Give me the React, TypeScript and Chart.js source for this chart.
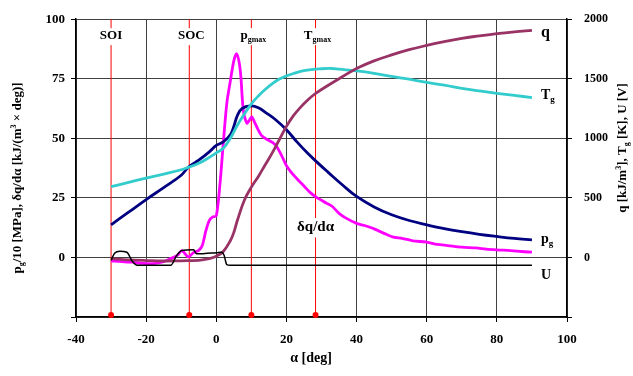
import React, { useEffect, useRef } from "react";
import { Chart, registerables } from "chart.js";
Chart.register(...registerables);

const FONT = "'Liberation Serif', 'Times New Roman', serif";

// crank angle ticks / marker lines
const markerAngles = [-30, -7.7, 10, 28.3];
const markerNames = ["SOI", "SOC", "pgmax", "Tgmax"];

// p_g / 10 [MPa]
const pgAlpha = [-30, -25, -20, -15, -10, -8, -5, -2, 0, 2, 4, 5, 6, 7.3, 10, 12, 14.4, 17, 20, 23, 26, 28.7, 32, 36, 40, 45, 50, 55, 60, 65, 70, 75, 80, 85, 90];
const pgValues = [13.7, 19, 24.3, 29.3, 34.5, 37.8, 40.8, 44.3, 47, 48.5, 51.5, 55, 59.5, 62.5, 63.6, 62.8, 60.5, 57.7, 53.6, 48.5, 43.8, 40, 35.6, 30.4, 25.6, 21.2, 17.9, 15.5, 13.7, 12.1, 10.8, 9.7, 8.8, 8, 7.4];

// dq/dalpha [kJ/(m3 deg)]
const dqAlpha = [-30, -27, -24, -21, -18, -15, -13, -11, -9.8, -8, -6.5, -5, -4, -3, -2, -1, 0, 1, 2, 3, 4, 5, 5.8, 6.5, 7, 7.7, 8.7, 9.4, 10.1, 11, 11.8, 13, 14.5, 16, 17, 18.2, 19.2, 20.1, 21.5, 23, 25, 26.8, 28.7, 30, 31.5, 33, 35, 37, 40, 42, 45, 48, 50.5, 53, 56, 60, 63, 66, 70, 74, 77, 80, 84, 87, 90];
const dqValues = [-1.5, -1.7, -2, -2.5, -2.6, -1.8, -0.5, 1, 2.9, 0.2, 2, 3, 5, 11, 15.5, 17, 17.5, 30, 48, 64.7, 74, 82.5, 85.5, 82, 76, 62, 56.4, 57.5, 59, 56.5, 54, 51, 49.5, 48.3, 47, 44, 41, 38.3, 35.5, 33, 30, 27.2, 25.1, 24, 22.7, 21.5, 18.5, 16.5, 14.3, 13.5, 12, 10, 8.5, 8, 7, 6.4, 5.5, 5, 4.3, 4, 3.5, 3.2, 2.9, 2.5, 2.2];

// T_g [K]
const tgAlpha = [-30, -25, -20, -15, -10, -8, -5, -2, 0, 2, 4, 6, 8, 10, 12, 14, 16, 18, 20, 22, 25, 30, 33, 35, 40, 45, 50, 55, 60, 65, 70, 75, 80, 85, 90];
const tgValues = [594, 630, 666, 700, 736, 756, 790, 840, 878, 916, 1000, 1110, 1204, 1290, 1356, 1412, 1460, 1498, 1524, 1544, 1568, 1584, 1586, 1580, 1566, 1546, 1520, 1496, 1470, 1446, 1420, 1398, 1378, 1360, 1342];

// q [kJ/m3]
const qAlpha = [-30, -25, -20, -15, -10, -5, -2, 0, 2, 4, 5, 6, 8, 10, 12, 14, 16, 18, 20, 22, 24, 26, 28, 30, 35, 40, 45, 50, 55, 60, 65, 70, 75, 80, 85, 90];
const qValues = [-10, -20, -26, -30, -28, -24, -10, 10, 50, 140, 210, 310, 480, 590, 680, 780, 880, 990, 1100, 1190, 1260, 1320, 1370, 1410, 1500, 1586, 1650, 1700, 1744, 1780, 1812, 1840, 1860, 1878, 1894, 1906];

// U [V]
const uAlpha = [-30, -29, -27.5, -25.5, -24, -22.5, -13, -11.3, -9.8, -6.5, -5.6, 0, 1.5, 2.2, 3, 4, 90];
const uValues = [-24, 36, 52, 44, -30, -66, -66, 16, 58, 64, 30, 40, 44, 20, -60, -66, -66];

type Seg = [string, number]; // 0 normal, 1 sub, 2 sup

function segFont(size: number, kind: number) {
  const s = kind === 0 ? size : Math.round(size * 0.65);
  return `bold ${s}px ${FONT}`;
}

function richWidth(ctx: CanvasRenderingContext2D, segs: Seg[], size: number) {
  let w = 0;
  for (const [t, k] of segs) {
    ctx.font = segFont(size, k);
    w += ctx.measureText(t).width;
  }
  return w;
}

function drawRich(ctx: CanvasRenderingContext2D, segs: Seg[], cx: number, cy: number, size: number, bg = false) {
  const w = richWidth(ctx, segs, size);
  let x = cx - w / 2;
  if (bg) {
    ctx.fillStyle = "#fff";
    ctx.fillRect(x - 2, cy - size * 0.6, w + 4, size * 1.3);
  }
  ctx.fillStyle = "#000";
  ctx.textBaseline = "middle";
  ctx.textAlign = "left";
  for (const [t, k] of segs) {
    ctx.font = segFont(size, k);
    const dy = k === 1 ? size * 0.3 : k === 2 ? -size * 0.35 : 0;
    ctx.fillText(t, x, cy + dy);
    x += ctx.measureText(t).width;
  }
}

const labelPlugin = {
  id: "labels",
  afterDraw(chart: any) {
    const ctx: CanvasRenderingContext2D = chart.ctx;
    const xs = chart.scales.x;
    ctx.save();
    const markerSegs: Seg[][] = [
      [["SOI", 0]],
      [["SOC", 0]],
      [["p", 0], ["gmax", 1]],
      [["T", 0], ["gmax", 1]],
    ];
    markerAngles.forEach((a, i) => {
      const px = xs.getPixelForValue(a);
      drawRich(ctx, markerSegs[i], px + (i === 0 ? 0 : 2), 36, 13, true);
    });
    // dq/dalpha label
    drawRich(ctx, [["δq/dα", 0]], xs.getPixelForValue(markerAngles[3]), 227, 15, true);
    // series labels at right
    const rx = xs.getPixelForValue(90) + 9;
    const put = (segs: Seg[], y: number, size: number) => {
      const w = richWidth(ctx, segs, size);
      drawRich(ctx, segs, rx + w / 2, y, size);
    };
    put([["q", 0]], 33, 16);
    put([["T", 0], ["g", 1]], 95, 14);
    put([["p", 0], ["g", 1]], 239, 14);
    put([["U", 0]], 275, 14);

    // axis titles
    ctx.save();
    ctx.translate(18, 178);
    ctx.rotate(-Math.PI / 2);
    drawRich(ctx, [["p", 0], ["g", 1], ["/10 [MPa], δq/dα [kJ/(m", 0], ["3", 2], [" × deg)]", 0]], 0, 0, 13);
    ctx.restore();
    ctx.save();
    ctx.translate(623, 148);
    ctx.rotate(-Math.PI / 2);
    drawRich(ctx, [["q [kJ/m", 0], ["3", 2], ["], T", 0], ["g", 1], [" [K], U [V]", 0]], 0, 0, 13);
    ctx.restore();
    drawRich(ctx, [["α [deg]", 0]], 311, 358, 14);
    ctx.restore();
  },
};

export default function App() {
  const ref = useRef<HTMLCanvasElement>(null);
  useEffect(() => {
    document.body.style.margin = "0";
    const toXY = (xs: number[], ys: number[]) => xs.map((x, i) => ({ x, y: ys[i] }));
    const curve = (label: string, xs: number[], ys: number[], color: string, axis: string, width: number, tension: number, mono = false) => ({
      label,
      data: toXY(xs, ys),
      borderColor: color,
      backgroundColor: color,
      borderWidth: width,
      yAxisID: axis,
      pointRadius: 0,
      tension,
      cubicInterpolationMode: mono ? ("monotone" as const) : ("default" as const),
      order: 1,
    });
    const markers = markerAngles.map((a, i) => ({
      label: markerNames[i],
      data: [
        { x: a, y: -24.2 },
        { x: a, y: 100 },
      ],
      borderColor: "#ff0000",
      backgroundColor: "#ff0000",
      borderWidth: 1,
      yAxisID: "y",
      pointRadius: [3, 0],
      pointBorderWidth: 0,
      clip: false as any,
      order: 10,
    }));
    const tickFont = { family: FONT, size: 13, weight: "bold" as const };
    const chart = new Chart(ref.current!, {
      type: "line",
      data: {
        datasets: [
          ...markers,
          curve("U", uAlpha, uValues, "#000000", "y2", 1.5, 0, true),
          curve("q", qAlpha, qValues, "#993366", "y2", 2.8, 0.4),
          curve("Tg", tgAlpha, tgValues, "#33CCCC", "y2", 2.8, 0.4),
          curve("pg", pgAlpha, pgValues, "#000080", "y", 2.8, 0.4),
          curve("dq/dalpha", dqAlpha, dqValues, "#FF00FF", "y", 2.8, 0.3),
        ] as any,
      },
      options: {
        responsive: false,
        animation: false,
        devicePixelRatio: 1,
        layout: { padding: { top: 17, left: 0, right: 0, bottom: 0 } },
        plugins: { legend: { display: false }, tooltip: { enabled: false } },
        scales: {
          x: {
            type: "linear",
            min: -40,
            max: 100,
            ticks: { stepSize: 20, font: tickFont, color: "#000", padding: 10, maxRotation: 0 },
            grid: { color: "#404040", lineWidth: 1, tickLength: 5, tickColor: "#000" },
            border: { color: "#000", width: 1.5 },
            afterFit: (s: any) => {
              s.height = 59;
            },
          },
          y: {
            position: "left",
            min: -25,
            max: 100,
            ticks: {
              stepSize: 25,
              font: tickFont,
              color: "#000",
              padding: 6,
              callback: (v: any) => (v === -25 ? "" : String(v)),
            },
            grid: { color: "#404040", lineWidth: 1, tickLength: 5, tickColor: "#000" },
            border: { color: "#000", width: 1.5 },
            afterFit: (s: any) => {
              s.width = 76;
            },
          },
          y2: {
            position: "right",
            min: -500,
            max: 2000,
            ticks: {
              stepSize: 500,
              font: { family: FONT, size: 12, weight: "bold" as const },
              color: "#000",
              padding: 12,
              callback: (v: any) => (v === -500 ? "" : String(v)),
            },
            grid: { drawOnChartArea: false, tickLength: 5, tickColor: "#000" },
            border: { color: "#000", width: 1.5 },
            afterFit: (s: any) => {
              s.width = 66;
            },
          },
        },
      } as any,
      plugins: [labelPlugin],
    });
    return () => chart.destroy();
  }, []);
  return <canvas ref={ref} width={633} height={376} style={{ display: "block" }} />;
}
